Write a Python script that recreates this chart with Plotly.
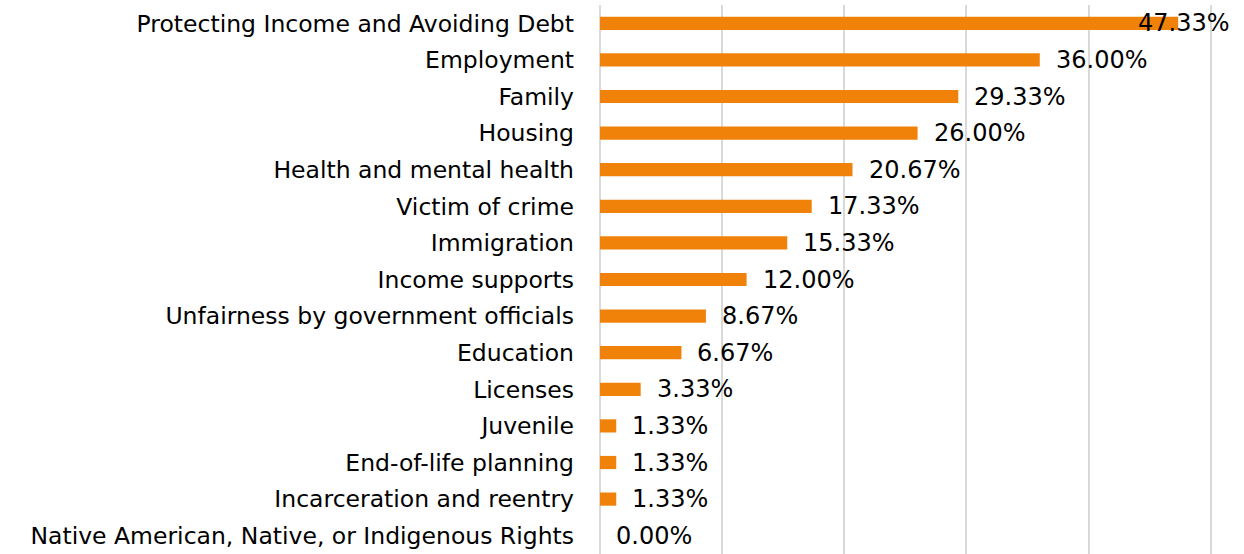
import plotly.graph_objects as go

categories = [
    "Protecting Income and Avoiding Debt",
    "Employment",
    "Family",
    "Housing",
    "Health and mental health",
    "Victim of crime",
    "Immigration",
    "Income supports",
    "Unfairness by government officials",
    "Education",
    "Licenses",
    "Juvenile",
    "End-of-life planning",
    "Incarceration and reentry",
    "Native American, Native, or Indigenous Rights",
]
percentages = [47.33, 36.00, 29.33, 26.00, 20.67, 17.33, 15.33, 12.00,
               8.67, 6.67, 3.33, 1.33, 1.33, 1.33, 0.00]

BAR_COLOR = "#F0820A"
GRID_COLOR = "#D9D9D9"
FONT = "DejaVu Sans, Liberation Sans, sans-serif"

fig = go.Figure(
    go.Bar(
        x=percentages,
        y=categories,
        orientation="h",
        marker=dict(color=BAR_COLOR, line=dict(width=0)),
        hoverinfo="skip",
    )
)

# value labels beside each bar; the longest one is pulled back so it fits
for cat, val in zip(categories, percentages):
    if val > 45:
        anchor, shift = "right", 54
    else:
        anchor, shift = "left", 14
    fig.add_annotation(
        x=val, y=cat, text=f"{val:.2f}%", showarrow=False,
        xanchor=anchor, yanchor="middle", xshift=shift,
        font=dict(family=FONT, size=24, color="#000000"),
    )

fig.update_layout(
    width=1244, height=554,
    margin=dict(l=600, r=32, t=5, b=0),
    plot_bgcolor="white", paper_bgcolor="white",
    bargap=0.64,
    showlegend=False,
    font=dict(family=FONT, size=22, color="#000000"),
)
fig.update_xaxes(
    range=[0, 50.1], dtick=10, showticklabels=False,
    showgrid=True, gridcolor=GRID_COLOR, gridwidth=2,
    zeroline=True, zerolinecolor=GRID_COLOR, zerolinewidth=2,
    showline=False, fixedrange=True,
)
fig.update_yaxes(
    autorange="reversed", showgrid=False, zeroline=False,
    ticks="", ticklabelstandoff=25,
    tickfont=dict(family=FONT, size=23.5, color="#000000"),
    fixedrange=True,
)

fig.write_html("out.html")
